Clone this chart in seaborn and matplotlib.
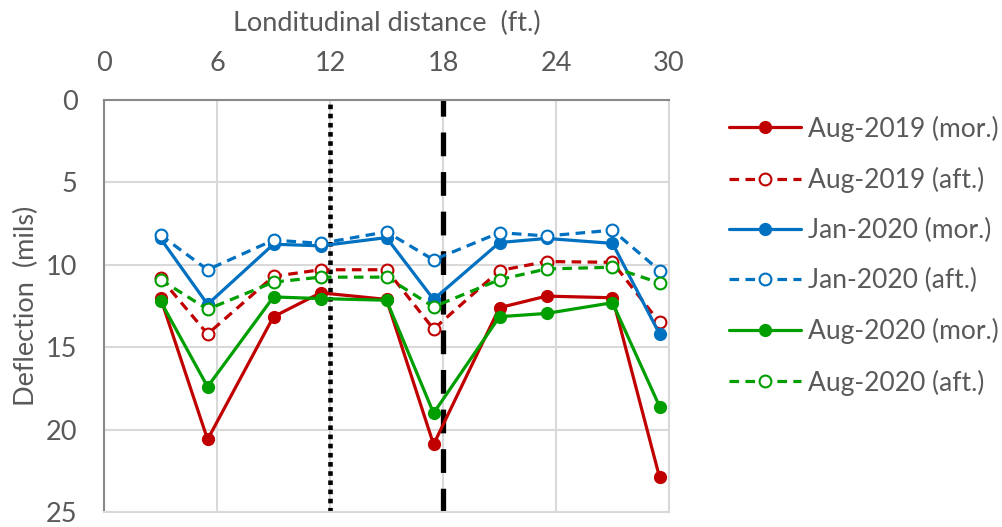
import matplotlib
matplotlib.use("Agg")
import matplotlib.pyplot as plt
import seaborn as sns
import pandas as pd

distance = [3, 5.5, 9, 11.5, 15, 17.5, 21, 23.5, 27, 29.5]

aug2019_mor = [12.0, 20.6, 13.15, 11.7, 12.1, 20.9, 12.6, 11.9, 12.0, 22.9]
aug2019_aft = [10.8, 14.2, 10.7, 10.3, 10.3, 13.9, 10.35, 9.8, 9.85, 13.5]
jan2020_mor = [8.4, 12.4, 8.75, 8.85, 8.35, 12.1, 8.65, 8.4, 8.7, 14.2]
jan2020_aft = [8.2, 10.3, 8.5, 8.7, 8.0, 9.7, 8.05, 8.25, 7.9, 10.35]
aug2020_mor = [12.2, 17.4, 11.95, 12.05, 12.15, 19.0, 13.15, 12.95, 12.3, 18.6]
aug2020_aft = [10.9, 12.7, 11.05, 10.75, 10.75, 12.55, 10.9, 10.25, 10.15, 11.1]

labels = ["Aug-2019 (mor.)", "Aug-2019 (aft.)", "Jan-2020 (mor.)",
          "Jan-2020 (aft.)", "Aug-2020 (mor.)", "Aug-2020 (aft.)"]
series = [aug2019_mor, aug2019_aft, jan2020_mor, jan2020_aft, aug2020_mor, aug2020_aft]
colors = ["#C00000", "#C00000", "#0070C0", "#0070C0", "#009E00", "#009E00"]
filled = [True, False, True, False, True, False]

x_ticks = [0, 6, 12, 18, 24, 30]
y_ticks = [0, 5, 10, 15, 20, 25]

sns.set_theme(style="white")
plt.rcParams['font.family'] = ['Lato', 'DejaVu Sans']
txt = "#595959"

fig = plt.figure(figsize=(10.03, 5.27), dpi=100)
ax = fig.add_axes([104 / 1003, 1 - 512 / 527, (669 - 104) / 1003, (512 - 100) / 527])

for lab, vals, col, fill in zip(labels, series, colors, filled):
    df = pd.DataFrame({"x": distance, "y": vals})
    sns.lineplot(data=df, x="x", y="y", ax=ax, color=col, label=lab,
                 linewidth=2.3, linestyle="-" if fill else (0, (3, 2)),
                 marker="o", markersize=8 if fill else 8.5,
                 markerfacecolor=col if fill else "white",
                 markeredgecolor=col, markeredgewidth=1.5,
                 errorbar=None, sort=False)

ax.axvline(12, color="black", linewidth=3.3, linestyle=(0, (1, 1)), zorder=1)
ax.axvline(18, color="black", linewidth=3.8, linestyle=(0, (4.5, 3)), zorder=1)

ax.set_xlim(0, 30)
ax.set_ylim(25, 0)
ax.set_xticks(x_ticks)
ax.set_yticks(y_ticks)
ax.xaxis.tick_top()
ax.xaxis.set_label_position("top")
ax.tick_params(axis="both", length=0, labelsize=19.5, colors=txt)
ax.tick_params(axis="x", pad=17)
ax.tick_params(axis="y", pad=19)
ax.grid(True, color="#D9D9D9", linewidth=1.5)
ax.set_axisbelow(True)
for s in ["right", "bottom"]:
    ax.spines[s].set_color("#D9D9D9")
    ax.spines[s].set_linewidth(1.5)
for s in ["top", "left"]:
    ax.spines[s].set_color("#898989")
    ax.spines[s].set_linewidth(1.5)

ax.set_xlabel("Londitudinal distance  (ft.)", fontsize=19.5, color=txt, labelpad=15)
ax.set_ylabel("Deflection  (mils)", fontsize=19.5, color=txt, labelpad=5)

leg = ax.legend(loc="upper left", bbox_to_anchor=(718 / 1003, 1 - 105 / 527),
                bbox_transform=fig.transFigure, frameon=False, fontsize=19,
                handlelength=2.75, labelspacing=0.95, handletextpad=0.25,
                borderaxespad=0)
for t in leg.get_texts():
    t.set_color(txt)

fig.savefig("out.png", dpi=100)
